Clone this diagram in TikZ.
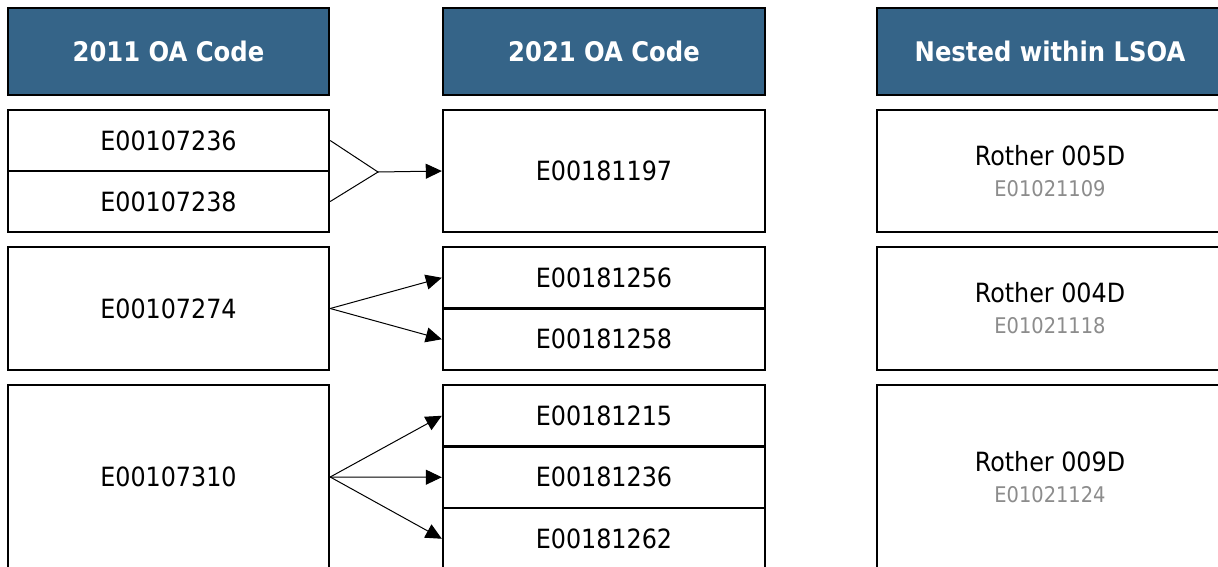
\documentclass[tikz,border=0pt]{standalone}
\usepackage{fontspec}
\setmainfont{DejaVu Sans Condensed}
\usetikzlibrary{arrows.meta}

\definecolor{headblue}{RGB}{53,100,136}
\definecolor{codegrey}{RGB}{140,140,140}
\newcommand{\lsoacode}[1]{{\fontsize{21.6}{22}\selectfont\color{codegrey}#1}}
\tikzset{
  head/.style={shape=rectangle,draw=black,fill=headblue,text=white,font=\fontsize{27}{30}\selectfont\bfseries,line width=2.4pt,inner sep=0pt,minimum height=87},
  cell/.style={shape=rectangle,draw=black,fill=white,align=center,font=\fontsize{26.5}{32}\selectfont,line width=2.4pt,inner sep=0pt},
  link/.style={-{Triangle[length=16pt,width=15pt]},draw=black,line width=1pt},
}

\begin{document}
\begin{tikzpicture}[x=1pt,y=-1pt]
\useasboundingbox (0,0) rectangle (1218,566);
\node[head,minimum width=321] (h0) at (168.5,51.5) {2011 OA Code};
\node[head,minimum width=322] (h1) at (604,51.5) {2021 OA Code};
\node[head,minimum width=346] (h2) at (1050,51.5) {Nested within LSOA};

\node[cell,minimum width=321,minimum height=61] (0) at (168.5,140.5) {E00107236};
\node[cell,minimum width=321,minimum height=61] (1) at (168.5,201.5) {E00107238};
\node[cell,minimum width=322,minimum height=122] (2) at (604,171) {E00181197};
\node[cell,minimum width=346,minimum height=122] (3) at (1050,171) {Rother 005D\\[-1pt]\lsoacode{E01021109}};

\node[cell,minimum width=321,minimum height=123] (4) at (168.5,308.5) {E00107274};
\node[cell,minimum width=322,minimum height=61.5] (5) at (604,277.75) {E00181256};
\node[cell,minimum width=322,minimum height=61.5] (6) at (604,339.25) {E00181258};
\node[cell,minimum width=346,minimum height=123] (7) at (1050,308.5) {Rother 004D\\[-1pt]\lsoacode{E01021118}};

\node[cell,minimum width=321,minimum height=184] (8) at (168.5,477) {E00107310};
\node[cell,minimum width=322,minimum height=61.5] (9) at (604,415.75) {E00181215};
\node[cell,minimum width=322,minimum height=61.5] (10) at (604,477.25) {E00181236};
\node[cell,minimum width=322,minimum height=61.5] (11) at (604,538.75) {E00181262};
\node[cell,minimum width=346,minimum height=184] (12) at (1050,477) {Rother 009D\\[-1pt]\lsoacode{E01021124}};

\coordinate (j0) at (378,172);
\path [draw=black,line width=1pt] (0.east) -- (j0) -- (1.east);
\draw [link] (j0) -- (2.west);
\draw [link] (4.east) -- (5.west);
\draw [link] (4.east) -- (6.west);
\draw [link] (8.east) -- (9.west);
\draw [link] (8.east) -- (10.west);
\draw [link] (8.east) -- (11.west);
\end{tikzpicture}
\end{document}
